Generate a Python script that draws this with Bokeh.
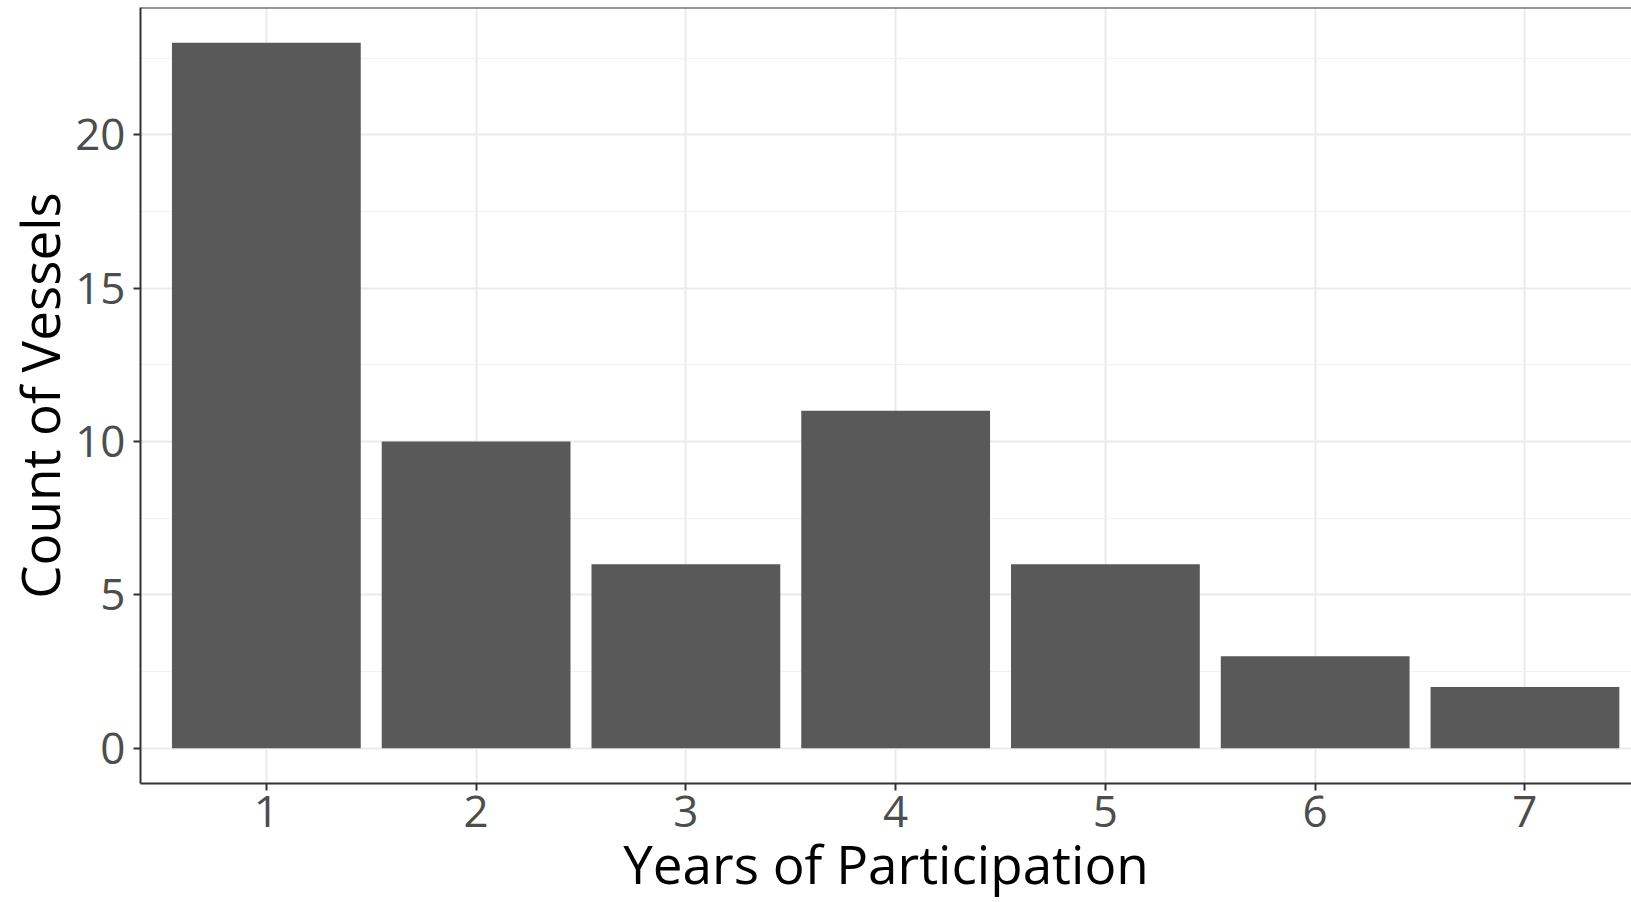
from bokeh.plotting import figure
from bokeh.models import FixedTicker, SingleIntervalTicker, Span, Range1d
from bokeh.embed import file_html
from bokeh.resources import INLINE

years = [1, 2, 3, 4, 5, 6, 7]
counts = [23, 10, 6, 11, 6, 3, 2]
x_ticks = [1, 2, 3, 4, 5, 6, 7]
x_title = "Years of Participation"
y_title = "Count of Vessels"

FONT = "Open Sans"

p = figure(width=1631, height=902, output_backend="svg", toolbar_location=None,
           x_range=Range1d(0.4, 7.508), y_range=Range1d(-1.15, 24.15),
           min_border_left=139, min_border_right=0, min_border_top=7,
           min_border_bottom=118)
p.outline_line_color = None
p.background_fill_color = "white"
p.border_fill_color = "white"

p.vbar(x=years, top=counts, bottom=0, width=0.9, fill_color="#595959", line_color=None)

# grids
p.xgrid.ticker = FixedTicker(ticks=x_ticks)
p.xgrid.grid_line_color = "#ebebeb"
p.xgrid.grid_line_width = 2
p.ygrid.ticker = SingleIntervalTicker(interval=5, num_minor_ticks=2)
p.ygrid.grid_line_color = "#ebebeb"
p.ygrid.grid_line_width = 2
p.ygrid.minor_grid_line_color = "#f2f2f2"
p.ygrid.minor_grid_line_width = 1

for ax in (p.xaxis[0], p.yaxis[0]):
    ax.axis_line_color = "#333333"
    ax.axis_line_width = 2
    ax.major_tick_line_color = "#333333"
    ax.major_tick_line_width = 2
    ax.major_tick_out = 7
    ax.major_tick_in = 0
    ax.minor_tick_line_color = None
    ax.major_label_text_font = FONT
    ax.major_label_text_font_size = "44px"
    ax.major_label_text_color = "#4d4d4d"
    ax.axis_label_text_font = FONT
    ax.axis_label_text_color = "black"
    ax.axis_label_text_font_style = "normal"
    ax.axis_label_text_font_size = "53px"

p.xaxis[0].ticker = FixedTicker(ticks=x_ticks)
p.yaxis[0].ticker = SingleIntervalTicker(interval=5, num_minor_ticks=2)
p.xaxis[0].axis_label = x_title
p.yaxis[0].axis_label = y_title
p.xaxis[0].major_label_standoff = 5
p.xaxis[0].axis_label_standoff = -3
p.yaxis[0].major_label_standoff = 8
p.yaxis[0].axis_label_standoff = -4

top_border = Span(location=24.15, dimension="width", line_color="#333333", line_width=2)
p.add_layout(top_border)

open("out.html", "w").write(file_html(p, INLINE))
